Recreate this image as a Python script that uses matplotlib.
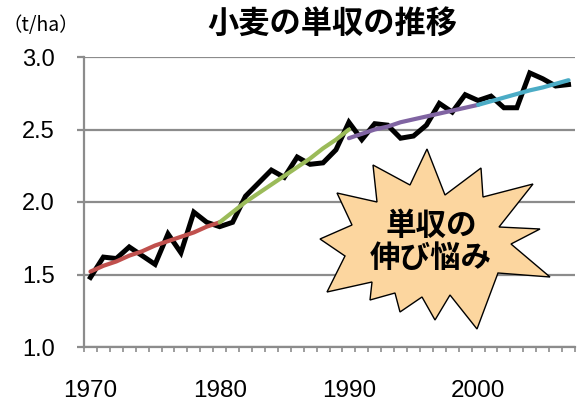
import numpy as np
import matplotlib
matplotlib.use("Agg")
import matplotlib.pyplot as plt
from matplotlib.patches import Polygon

plt.rcParams['font.family'] = ['Liberation Sans', 'DejaVu Sans']
JP = ['Noto Sans CJK JP', 'DejaVu Sans']

# wheat yield (t/ha)
years = np.arange(1970, 2008)
yield_t = [1.48, 1.62, 1.61, 1.69, 1.63, 1.57, 1.78, 1.65, 1.93, 1.86,
           1.83, 1.86, 2.04, 2.13, 2.22, 2.17, 2.31, 2.26, 2.27, 2.36,
           2.55, 2.43, 2.54, 2.53, 2.44, 2.455, 2.53, 2.68, 2.62, 2.74,
           2.70, 2.73, 2.65, 2.65, 2.89, 2.85, 2.80, 2.81]

# trend segments per decade
trend_70s_x = np.arange(1970, 1981)
trend_70s = [1.52, 1.56, 1.59, 1.63, 1.66, 1.70, 1.73, 1.76, 1.79, 1.83, 1.86]
trend_80s_x = np.arange(1980, 1991)
trend_80s = [1.86, 1.93, 2.00, 2.06, 2.12, 2.18, 2.24, 2.30, 2.37, 2.43, 2.50]
trend_90s_x = np.arange(1990, 2001)
trend_90s = [2.44, 2.47, 2.50, 2.52, 2.55, 2.57, 2.59, 2.61, 2.63, 2.65, 2.67]
trend_00s_x = np.arange(2000, 2008)
trend_00s = [2.67, 2.695, 2.72, 2.745, 2.77, 2.79, 2.815, 2.84]

year_labels = [1970, 1980, 1990, 2000]
y_ticks = [1.0, 1.5, 2.0, 2.5, 3.0]

W, H = 581, 404
fig = plt.figure(figsize=(W / 100, H / 100), dpi=100)
ax = fig.add_axes([84 / W, 1 - 347 / H, (575 - 84) / W, (347 - 57) / H])

grey = '#8c8c8c'
ax.set_ylim(1.0, 3.0)
ax.set_xlim(1969.5, 2007.5)
ax.set_yticks(y_ticks)
ax.set_yticklabels([f"{v:.1f}" for v in y_ticks])
ax.set_xticks(year_labels)
ax.set_xticks(np.arange(1969.5, 2008.0, 1.0), minor=True)
ax.grid(axis='y', color=grey, lw=1.6)
ax.set_axisbelow(True)
for s in ['top', 'right']:
    ax.spines[s].set_visible(False)
for s in ['left', 'bottom']:
    ax.spines[s].set_color(grey)
    ax.spines[s].set_linewidth(1.6)
ax.tick_params(axis='y', length=5, width=1.6, color=grey, labelsize=17, pad=16)
ax.tick_params(axis='x', which='major', length=0, labelsize=17.5, pad=24)
ax.tick_params(axis='x', which='minor', length=3.8, width=1.2, color=grey)

ax.plot(years, yield_t, color='black', lw=3.6, solid_joinstyle='miter', zorder=3)
ax.plot(trend_70s_x, trend_70s, color='#C0504D', lw=3.0, solid_capstyle='round', zorder=4)
ax.plot(trend_80s_x, trend_80s, color='#9BBB59', lw=3.0, solid_capstyle='round', zorder=4)
ax.plot(trend_90s_x, trend_90s, color='#8064A2', lw=3.0, solid_capstyle='round', zorder=4)
ax.plot(trend_00s_x, trend_00s, color='#4BACC6', lw=3.0, solid_capstyle='round', zorder=4)

# starburst callout (pixel outline)
star_px = [(427, 149), (445, 195), (481, 168), (483, 197), (533, 184), (499, 227),
           (540, 229), (511, 244), (550, 277), (498, 273), (477, 329), (450, 295),
           (435, 320), (422, 297), (400, 312), (395, 293), (370, 300), (372, 282),
           (327, 292), (345, 256), (320, 239), (352, 225), (337, 193), (377, 202),
           (373, 165), (410, 185)]
star = Polygon([(x / W, 1 - y / H) for x, y in star_px], closed=True,
               facecolor='#FCD69F', edgecolor='black', lw=1.0,
               transform=fig.transFigure, zorder=5)
fig.patches.append(star)
fig.text(431 / W, 1 - 242 / H, "単収の\n伸び悩み", ha='center', va='center',
         fontsize=22, fontweight='bold', family=JP, linespacing=1.0, zorder=6)

fig.text(332 / W, 1 - 24 / H, "小麦の単収の推移", ha='center', va='center',
         fontsize=22.5, fontweight='bold', family=JP)
fig.text(3 / W, 1 - 26 / H, "（t/ha）", ha='left', va='center',
         fontsize=14, family=JP)

fig.savefig("out.png", dpi=100)
